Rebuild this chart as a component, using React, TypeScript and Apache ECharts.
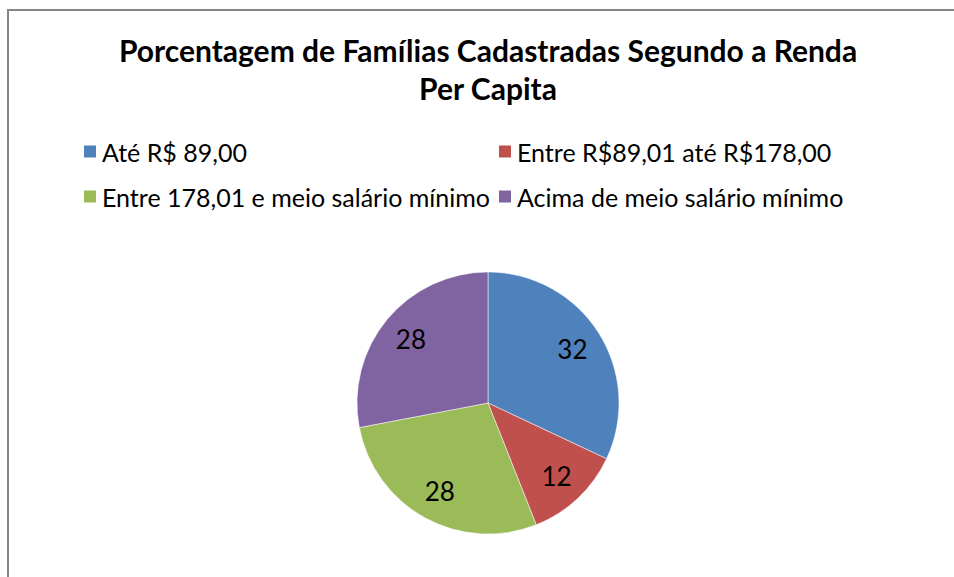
import React, { useEffect, useRef } from "react";
import * as echarts from "echarts";

const titleText = "Porcentagem de Famílias Cadastradas Segundo a Renda\nPer Capita";
const categories = [
  "Até R$ 89,00",
  "Entre R$89,01 até R$178,00",
  "Entre 178,01 e meio salário mínimo",
  "Acima de meio salário mínimo",
];
const values = [32, 12, 28, 28];
const colors = ["#4F81BD", "#C0504D", "#9BBB59", "#8064A2"];

const FONT = "Lato, 'Open Sans', sans-serif";

export default function App() {
  const ref = useRef<HTMLDivElement>(null);
  useEffect(() => {
    if (!ref.current) return;
    const chart = echarts.init(ref.current, undefined, { renderer: "svg" });
    const data = categories.map((name, i) => ({
      name,
      value: values[i],
      itemStyle: { color: colors[i] },
    }));
    const legendCommon = {
      orient: "vertical" as const,
      itemWidth: 14,
      itemHeight: 14,
      itemGap: 20,
      padding: 0,
      icon: "rect",
      textStyle: { fontFamily: FONT, fontSize: 25, lineHeight: 25, color: "#000" },
      selectedMode: false,
    };
    chart.setOption({
      animation: false,
      backgroundColor: "#fff",
      title: {
        text: titleText,
        left: 488,
        textAlign: "center",
        top: 31,
        padding: 0,
        textStyle: {
          fontFamily: FONT,
          fontWeight: "bold",
          fontSize: 30,
          lineHeight: 38,
          color: "#000",
        },
      },
      legend: [
        { ...legendCommon, left: 82, top: 139, data: [categories[0], categories[2]] },
        { ...legendCommon, left: 497, top: 139, data: [categories[1], categories[3]] },
      ],
      graphic: [
        {
          type: "rect",
          shape: { x: 8, y: 10, width: 2000, height: 2000 },
          style: { fill: "none", stroke: "#868686", lineWidth: 2 },
          silent: true,
        },
      ],
      series: [
        {
          type: "pie",
          center: [488, 403],
          radius: [0, 131],
          startAngle: 90,
          clockwise: true,
          data,
          label: { show: false },
          labelLine: { show: false },
          itemStyle: { borderColor: "#fff", borderWidth: 0.5 },
          emphasis: { disabled: true },
        },
        {
          type: "pie",
          center: [488, 403],
          radius: [84, 110],
          startAngle: 90,
          clockwise: true,
          silent: true,
          legendHoverLink: false,
          data: categories.map((name, i) => ({
            name: name + " ",
            value: values[i],
            itemStyle: { color: "rgba(0,0,0,0)" },
          })),
          label: {
            show: true,
            position: "inside",
            formatter: "{c}",
            fontFamily: FONT,
            fontSize: 26,
            color: "#000",
          },
          labelLine: { show: false },
          emphasis: { disabled: true },
        },
      ],
    });
    return () => chart.dispose();
  }, []);
  return (
    <div
      ref={ref}
      style={{ position: "fixed", left: 0, top: 0, width: 954, height: 577 }}
    />
  );
}
